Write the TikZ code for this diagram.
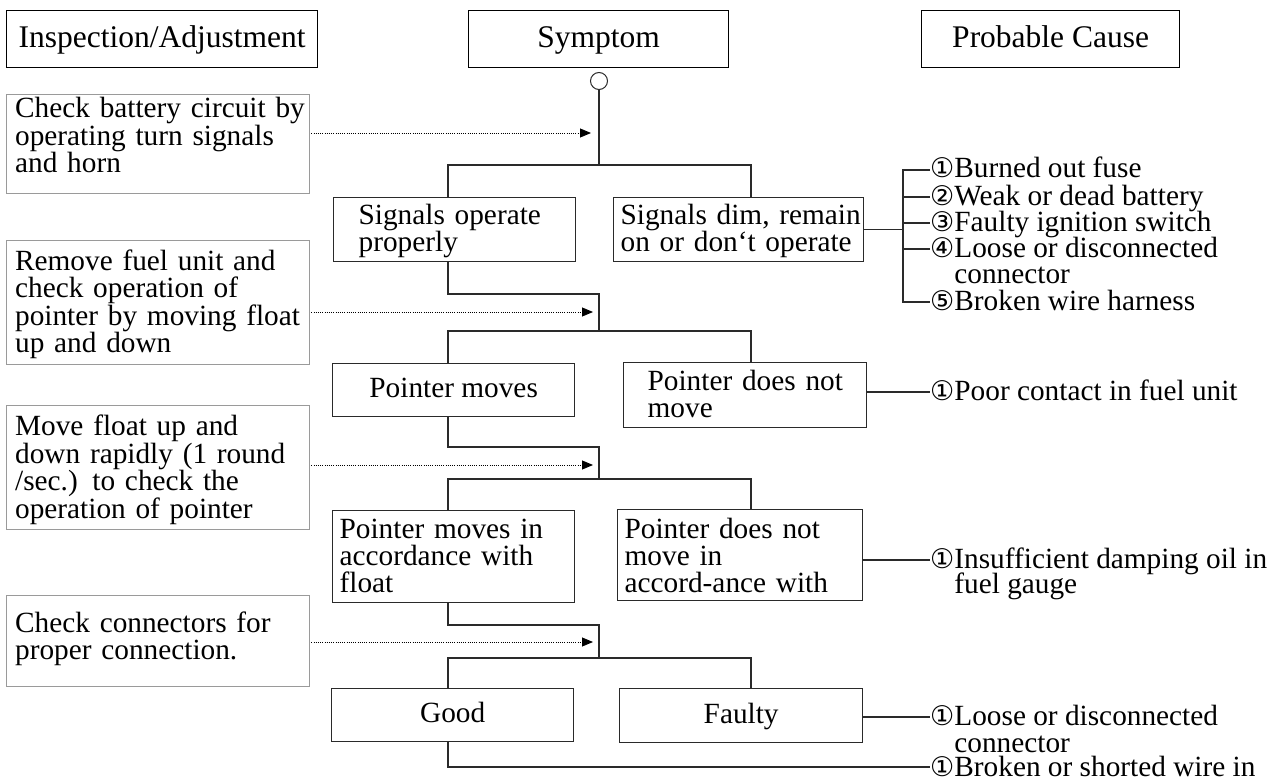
\documentclass[tikz,border=0pt]{standalone}
\usepackage{fontspec}
\setmainfont{Liberation Serif}
\newfontfamily\circf{DejaVu Sans}
\usetikzlibrary{arrows.meta,calc}
\newcommand\cnum[1]{{\circf\fontsize{27pt}{27pt}\selectfont #1}}
\newcommand\lb[1]{\mbox{#1}}
\newcommand\bodyfont{\fontsize{29.3pt}{26.5pt}\selectfont}
\newcommand\stagefont{\fontsize{29.3pt}{27pt}\selectfont}
\definecolor{lnc}{HTML}{2A2A2A}
\definecolor{ibc}{HTML}{9A9A9A}
\begin{document}
\begin{tikzpicture}[x=1pt,y=-1pt,
  hdr/.style={draw=black,line width=1.3pt,minimum width=#1,minimum height=57pt,
    inner sep=0pt,anchor=north west,text height=22pt,text depth=5pt,
    font=\fontsize{31.5pt}{34pt}\selectfont},
  ibox/.style args={#1/#2}{draw=ibc,line width=1.3pt,anchor=north west,
    inner xsep=8.5pt,inner ysep=0pt,text width=286pt,align=left,
    text height=#1,text depth=#2,font=\bodyfont},
  sbox/.style args={#1/#2/#3/#4}{draw=lnc,line width=1.3pt,anchor=north west,
    inner xsep=#1,inner ysep=0pt,text width=#2,align=left,
    text height=#3,text depth=#4,font=\stagefont},
  cbox/.style 2 args={draw=lnc,line width=1.3pt,anchor=north west,inner sep=0pt,
    minimum width=#1,minimum height=#2,text height=20pt,text depth=5pt,font=\stagefont},
  cause/.style={inner sep=0pt,anchor=west,text height=20pt,text depth=4pt,font=\bodyfont},
  contl/.style={inner sep=0pt,anchor=base west,font=\bodyfont},
  conn/.style={draw=lnc,line width=1.2pt},
  dotarr/.style={draw=black,line width=0.9pt,dash pattern=on 0.9pt off 1.3pt,
    -{Triangle[length=11pt,width=9pt]}},
]
\useasboundingbox (0,0) rectangle (1288,781);

% headers
\node[hdr=311pt] (hIA) at (6,10) {Inspection/Adjustment};
\node[hdr=260pt] (hS) at (468,10) {Symptom};
\node[hdr=258pt] (hPC) at (921,10) {Probable Cause};

% inspection boxes
\node[ibox=23pt/76pt] (i1) at (6,94) {\lb{Check battery circuit by}\\\lb{operating turn signals}\\\lb{and horn}};
\node[ibox=30pt/94pt] (i2) at (6,240) {\lb{Remove fuel unit and}\\\lb{check operation of}\\\lb{pointer by moving float}\\\lb{up and down}};
\node[ibox=30pt/94pt] (i3) at (6,405) {\lb{Move float up and}\\\lb{down rapidly (1 round}\\\lb{/sec.) to check the}\\\lb{operation of pointer}};
\node[ibox=37pt/54pt] (i4) at (6,595) {\lb{Check connectors for}\\\lb{proper connection.}};

% symptom boxes
\node[sbox=25pt/192pt/27pt/37pt] (s1L) at (333,197) {\lb{Signals operate}\\\lb{properly}};
\node[sbox=7pt/236pt/27pt/37pt] (s1R) at (613,197) {\lb{Signals dim, remain}\\\lb{on or don‘t operate}};
\node[cbox={242pt}{53pt}] (s2L) at (332,363) {Pointer moves};
\node[sbox=24pt/195pt/28pt/37pt] (s2R) at (623,362) {\lb{Pointer does not}\\\lb{move}};
\node[sbox=7pt/228pt/28pt/64pt] (s3L) at (332,510) {\lb{Pointer moves in}\\\lb{accordance with}\\\lb{float}};
\node[sbox=7pt/231pt/29pt/62pt] (s3R) at (617,509) {\lb{Pointer does not}\\\lb{move in}\\\lb{accord-ance with}};
\node[cbox={242pt}{53pt}] (s4L) at (331,688) {Good};
\node[cbox={243pt}{54pt}] (s4R) at (619,688) {Faulty};

% start circle
\node[circle,draw=lnc,line width=1pt,minimum size=17pt,inner sep=0pt] (c0) at (599,81) {};

% helper coordinates
\coordinate (dl) at (448,0);
\coordinate (dr) at (751,0);
\coordinate (brk) at (903,0);
\coordinate (b1) at (599,165);
\coordinate (k1) at (599,294);
\coordinate (b2) at (599,331);
\coordinate (k2) at (599,447);
\coordinate (b3) at (599,479);
\coordinate (k3) at (599,625);
\coordinate (b4) at (599,658);
\coordinate (t1) at (591,133);
\coordinate (t2) at (593,312);
\coordinate (t3) at (593,465);
\coordinate (t4) at (593,642);

% flow connectors
\draw[conn] (c0.south) -- (b1);
\draw[conn] (s1L.north -| dl) |- (b1) -| (s1R.north -| dr);
\draw[conn] (s1L.south -| dl) |- (k1) -- (b2);
\draw[conn] (s2L.north -| dl) |- (b2) -| (s2R.north -| dr);
\draw[conn] (s2L.south -| dl) |- (k2) -- (b3);
\draw[conn] (s3L.north -| dl) |- (b3) -| (s3R.north -| dr);
\draw[conn] (s3L.south -| dl) |- (k3) -- (b4);
\draw[conn] (s4L.north -| dl) |- (b4) -| (s4R.north -| dr);

% dotted arrows
\draw[dotarr] ([xshift=1pt]i1.east |- t1) -- (t1);
\draw[dotarr] ([xshift=1pt]i2.east |- t2) -- (t2);
\draw[dotarr] ([xshift=1pt]i3.east |- t3) -- (t3);
\draw[dotarr] ([xshift=1pt]i4.east |- t4) -- (t4);

% causes stage 1
\node[cause] (c11) at (930,170) {\cnum{①}Burned out fuse};
\node[cause] (c12) at (930,197) {\cnum{②}Weak or dead battery};
\node[cause] (c13) at (930,223) {\cnum{③}Faulty ignition switch};
\node[cause] (c14) at (930,249) {\cnum{④}Loose or disconnected};
\node[contl] (c14b) at (930,283) {\phantom{\cnum{④}}connector};
\node[cause] (c15) at (930,302) {\cnum{⑤}Broken wire harness};
\draw[conn] (s1R.east) -- (s1R.east -| brk);
\draw[conn] (c11.west) -| (brk |- c15.west) -- (c15.west);
\draw[conn] (c12.west) -- (c12.west -| brk);
\draw[conn] (c13.west) -- (c13.west -| brk);
\draw[conn] (c14.west) -- (c14.west -| brk);

% causes stage 2
\node[cause] (c21) at (930,392) {\cnum{①}Poor contact in fuel unit};
\draw[conn] (s2R.east |- c21.west) -- (c21.west);

% causes stage 3
\node[cause] (c31) at (930,560) {\cnum{①}Insufficient damping oil in};
\node[contl] (c31b) at (930,593) {\phantom{\cnum{①}}fuel gauge};
\draw[conn] (s3R.east |- c31.west) -- (c31.west);

% causes stage 4
\node[cause] (c41) at (930,717) {\cnum{①}Loose or disconnected};
\node[contl] (c41b) at (930,752) {\phantom{\cnum{①}}connector};
\draw[conn] (s4R.east |- c41.west) -- (c41.west);
\node[cause,text depth=2pt] (c42) at (930,767) {\cnum{①}Broken or shorted wire in};
\draw[conn] (s4L.south -| dl) |- (c42.west);
\end{tikzpicture}
\end{document}
